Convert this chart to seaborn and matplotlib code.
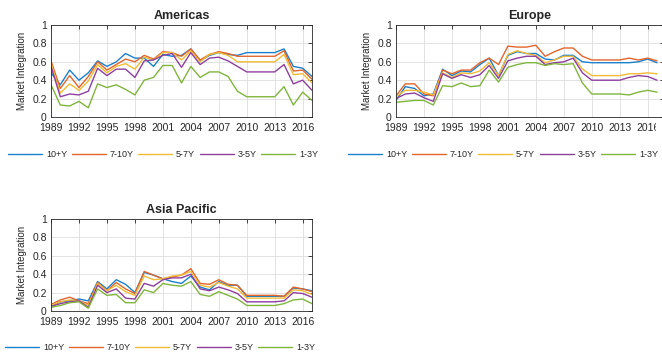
import matplotlib
matplotlib.use("Agg")
from matplotlib import pyplot as plt
from matplotlib import transforms as mtransforms
import matplotlib.ticker as mticker
import numpy as np
import pandas as pd
import seaborn as sns

# data
years = list(range(1989, 2018))
series_names = ["10+Y", "7-10Y", "5-7Y", "3-5Y", "1-3Y"]
colors = ["#1a80cc", "#e2652c", "#f2bb35", "#8e3f9e", "#80b53d"]

americas_10 = [0.48, 0.35, 0.51, 0.40, 0.48, 0.61, 0.55, 0.60, 0.69, 0.64, 0.64, 0.55, 0.68, 0.66, 0.67, 0.74,
               0.61, 0.67, 0.70, 0.68, 0.67, 0.70, 0.70, 0.70, 0.70, 0.74, 0.55, 0.53, 0.44]
americas_7 = [0.61, 0.31, 0.45, 0.32, 0.44, 0.60, 0.51, 0.57, 0.63, 0.60, 0.67, 0.63, 0.71, 0.70, 0.66, 0.74,
              0.62, 0.68, 0.71, 0.69, 0.66, 0.66, 0.66, 0.66, 0.66, 0.72, 0.50, 0.51, 0.41]
americas_5 = [0.58, 0.26, 0.36, 0.29, 0.39, 0.57, 0.48, 0.55, 0.58, 0.52, 0.65, 0.62, 0.70, 0.70, 0.62, 0.72,
              0.60, 0.68, 0.70, 0.67, 0.60, 0.60, 0.60, 0.60, 0.60, 0.68, 0.46, 0.47, 0.37]
americas_3 = [0.55, 0.22, 0.25, 0.24, 0.28, 0.53, 0.45, 0.52, 0.52, 0.43, 0.61, 0.62, 0.67, 0.69, 0.54, 0.70,
              0.57, 0.64, 0.65, 0.61, 0.55, 0.49, 0.49, 0.49, 0.49, 0.57, 0.36, 0.40, 0.29]
americas_1 = [0.35, 0.13, 0.12, 0.17, 0.10, 0.36, 0.32, 0.35, 0.30, 0.24, 0.40, 0.43, 0.56, 0.56, 0.37, 0.55,
              0.43, 0.49, 0.49, 0.44, 0.28, 0.22, 0.22, 0.22, 0.22, 0.33, 0.13, 0.27, 0.18]

europe_10 = [0.18, 0.33, 0.31, 0.23, 0.25, 0.52, 0.45, 0.50, 0.49, 0.57, 0.64, 0.45, 0.67, 0.71, 0.69, 0.69,
             0.63, 0.62, 0.67, 0.67, 0.60, 0.59, 0.59, 0.59, 0.59, 0.59, 0.60, 0.63, 0.59]
europe_7 = [0.23, 0.36, 0.36, 0.25, 0.23, 0.51, 0.47, 0.51, 0.51, 0.59, 0.64, 0.57, 0.77, 0.76, 0.76, 0.78,
            0.66, 0.71, 0.75, 0.75, 0.66, 0.62, 0.62, 0.62, 0.62, 0.64, 0.62, 0.64, 0.61]
europe_5 = [0.22, 0.29, 0.29, 0.27, 0.24, 0.48, 0.43, 0.48, 0.47, 0.50, 0.59, 0.45, 0.68, 0.72, 0.69, 0.67,
            0.59, 0.62, 0.66, 0.66, 0.52, 0.45, 0.45, 0.45, 0.45, 0.47, 0.47, 0.48, 0.47]
europe_3 = [0.20, 0.25, 0.26, 0.21, 0.17, 0.47, 0.42, 0.46, 0.43, 0.46, 0.56, 0.42, 0.61, 0.64, 0.66, 0.66,
            0.57, 0.59, 0.60, 0.64, 0.48, 0.40, 0.40, 0.40, 0.40, 0.43, 0.45, 0.44, 0.40]
europe_1 = [0.16, 0.17, 0.18, 0.18, 0.13, 0.34, 0.33, 0.37, 0.33, 0.34, 0.51, 0.38, 0.54, 0.57, 0.59, 0.59,
            0.56, 0.58, 0.57, 0.58, 0.37, 0.25, 0.25, 0.25, 0.25, 0.24, 0.27, 0.29, 0.27]

asia_10 = [0.05, 0.10, 0.11, 0.13, 0.11, 0.32, 0.24, 0.34, 0.29, 0.20, 0.42, 0.39, 0.35, 0.32, 0.30, 0.38,
           0.26, 0.23, 0.32, 0.28, 0.28, 0.16, 0.16, 0.16, 0.16, 0.16, 0.25, 0.24, 0.22]
asia_7 = [0.07, 0.12, 0.15, 0.11, 0.08, 0.31, 0.22, 0.31, 0.24, 0.19, 0.43, 0.39, 0.35, 0.37, 0.39, 0.46,
          0.30, 0.29, 0.34, 0.29, 0.28, 0.17, 0.17, 0.17, 0.17, 0.16, 0.26, 0.24, 0.21]
asia_5 = [0.06, 0.10, 0.12, 0.11, 0.06, 0.30, 0.22, 0.28, 0.21, 0.17, 0.38, 0.34, 0.35, 0.38, 0.39, 0.43,
          0.28, 0.26, 0.31, 0.27, 0.24, 0.14, 0.14, 0.14, 0.14, 0.14, 0.23, 0.22, 0.18]
asia_3 = [0.05, 0.08, 0.10, 0.11, 0.04, 0.28, 0.20, 0.24, 0.14, 0.13, 0.30, 0.27, 0.34, 0.36, 0.36, 0.40,
          0.24, 0.22, 0.26, 0.23, 0.19, 0.10, 0.10, 0.10, 0.10, 0.11, 0.20, 0.19, 0.15]
asia_1 = [0.04, 0.06, 0.09, 0.10, 0.03, 0.24, 0.17, 0.18, 0.09, 0.09, 0.23, 0.20, 0.30, 0.28, 0.27, 0.32,
          0.18, 0.16, 0.21, 0.17, 0.13, 0.06, 0.06, 0.06, 0.06, 0.08, 0.12, 0.13, 0.08]

regions = {
    "Americas": [americas_10, americas_7, americas_5, americas_3, americas_1],
    "Europe": [europe_10, europe_7, europe_5, europe_3, europe_1],
    "Asia Pacific": [asia_10, asia_7, asia_5, asia_3, asia_1],
}
x_ticks = list(range(1989, 2017, 3))
y_ticks = [0, 0.2, 0.4, 0.6, 0.8, 1]

sns.set_style("white")
plt.rcParams["font.family"] = ["Liberation Sans", "DejaVu Sans"]

W, H = 662, 358
fig = plt.figure(figsize=(W / 100, H / 100), dpi=100)

# axes boxes in pixels: left, top, right, bottom
boxes = {
    "Americas": (51, 25, 312, 117),
    "Europe": (396, 25, 664, 117),
    "Asia Pacific": (51, 219, 312, 311),
}
legend_centers = {
    "Americas": (163, 155),
    "Europe": (503, 155),
    "Asia Pacific": (160, 348),
}

for name, vals in regions.items():
    l, t, r, b = boxes[name]
    ax = fig.add_axes([l / W, (H - b) / H, (r - l) / W, (b - t) / H])
    for s, c, v in zip(series_names, colors, vals):
        sns.lineplot(x=years, y=v, ax=ax, color=c, label=s, linewidth=1.0)
    ax.set_ylim(0, 1)
    if name == "Europe":
        ax.set_xlim(1989, 2017.75)
    else:
        ax.set_xlim(1989, 2017)
    ax.set_xticks(x_ticks)
    ax.set_yticks(y_ticks)
    ax.yaxis.set_major_formatter(mticker.FuncFormatter(lambda v, p: "%g" % v))
    ax.grid(True, color="#dedede", linewidth=0.6)
    ax.set_axisbelow(True)
    for sp in ax.spines.values():
        sp.set_color("#262626")
        sp.set_linewidth(0.6)
    ax.tick_params(direction="in", top=True, right=True, length=3, width=0.6,
                   labelsize=7.5, colors="#262626")
    ax.tick_params(axis="x", pad=4.5)
    ax.tick_params(axis="y", pad=3)
    ax.set_title(name, fontsize=9, fontweight="bold", pad=4)
    ax.set_ylabel("Market Integration", fontsize=7, color="#262626", labelpad=4)
    cx, cy = legend_centers[name]
    ax.legend(loc="center", bbox_to_anchor=(cx / W, (H - cy) / H),
              bbox_transform=fig.transFigure, ncol=5, frameon=False,
              fontsize=6.5, handlelength=3.8, handletextpad=0.4, columnspacing=0.5,
              borderaxespad=0)
    if name == "Europe":
        clip = mtransforms.TransformedBbox(
            mtransforms.Bbox([[0, 0], [656 / W, 1]]), fig.transFigure)
        for tk in ax.xaxis.get_major_ticks():
            tk.label1.set_clip_box(clip)
            tk.label1.set_clip_on(True)

fig.savefig("out.png", dpi=100)
